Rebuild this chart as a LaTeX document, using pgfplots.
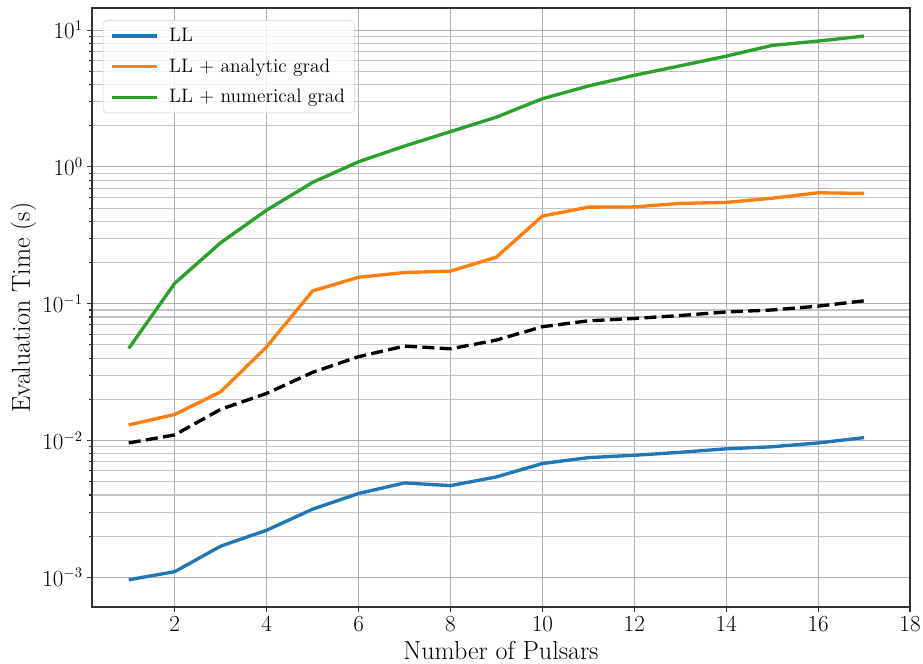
\documentclass[border=0pt]{standalone}
\usepackage{pgfplots}
\pgfplotsset{compat=1.18}
\definecolor{c1}{HTML}{1F77B4}
\definecolor{c2}{HTML}{FF7F0E}
\definecolor{c3}{HTML}{2CA02C}
\definecolor{gmaj}{HTML}{B0B0B0}
\definecolor{gmin}{HTML}{C4C4C4}
\begin{document}
\begin{tikzpicture}
\begin{axis}[
  scale only axis, width=613.5pt, height=449.25pt,
  xmin=0.2, xmax=18, ymode=log, ymin=6.07e-4, ymax=14.5,
  xtick={2,4,...,18}, ytick={1e-3,1e-2,1e-1,1,10},
  xtick pos=bottom, ytick pos=left, tick align=outside,
  major tick length=3.4pt, minor tick length=2pt,
  xmajorgrids, ymajorgrids, yminorgrids,
  major grid style={gmaj, line width=0.8pt},
  minor grid style={gmin, line width=0.8pt},
  axis line style={black!80, line width=0.8pt},
  tick style={black!80, line width=0.8pt},
  ticklabel style={font=\fontsize{16}{19}\selectfont},
  xlabel={Number of Pulsars}, ylabel={Evaluation Time (s)},
  every axis x label/.style={at={(axis description cs:0.5,-0.0873)},anchor=base,font=\fontsize{19.5}{23}\selectfont},
  every axis y label/.style={at={(axis description cs:-0.0758,0.5)},rotate=90,anchor=base,font=\fontsize{19.5}{23}\selectfont},
  legend cell align=left,
  legend image code/.code={\draw[#1] (0pt,0pt) -- (34pt,0pt); \path (40pt,0pt);},
  legend style={at={(axis description cs:0.0134,0.98)}, anchor=north west,
    draw=gray!35, rounded corners=3pt, fill=white, fill opacity=0.8, text opacity=1,
    font=\fontsize{14.6}{17}\selectfont, row sep=7.4pt, inner xsep=5pt, inner ysep=4pt},
  every axis plot/.append style={line width=2.5pt, line join=round},
]
\addplot[c1] coordinates {(1,0.00096) (2,0.0011) (3,0.00169) (4,0.00221) (5,0.00315) (6,0.0041) (7,0.0049) (8,0.00468) (9,0.00542) (10,0.00679) (11,0.0075) (12,0.0078) (13,0.0082) (14,0.0087) (15,0.009) (16,0.0096) (17,0.0105)};
\addlegendentry{LL}
\addplot[c2] coordinates {(1,0.0130) (2,0.0155) (3,0.0227) (4,0.0484) (5,0.124) (6,0.156) (7,0.169) (8,0.173) (9,0.219) (10,0.437) (11,0.508) (12,0.51) (13,0.541) (14,0.55) (15,0.59) (16,0.647) (17,0.64)};
\addlegendentry{LL + analytic grad}
\addplot[c3] coordinates {(1,0.0471) (2,0.141) (3,0.279) (4,0.483) (5,0.77) (6,1.09) (7,1.42) (8,1.81) (9,2.31) (10,3.15) (11,3.9) (12,4.67) (13,5.48) (14,6.45) (15,7.73) (16,8.31) (17,9.04)};
\addlegendentry{LL + numerical grad}
\addplot[black, dash pattern=on 9pt off 4pt, forget plot] coordinates {(1,0.0096) (2,0.011) (3,0.0169) (4,0.0221) (5,0.0315) (6,0.041) (7,0.049) (8,0.0468) (9,0.0542) (10,0.0679) (11,0.075) (12,0.078) (13,0.082) (14,0.087) (15,0.09) (16,0.096) (17,0.105)};
\end{axis}
\pgfresetboundingbox
\path ([shift={(-69pt,-42pt)}]current axis.south west) rectangle ([shift={(9.75pt,6pt)}]current axis.north east);
\end{tikzpicture}
\end{document}
